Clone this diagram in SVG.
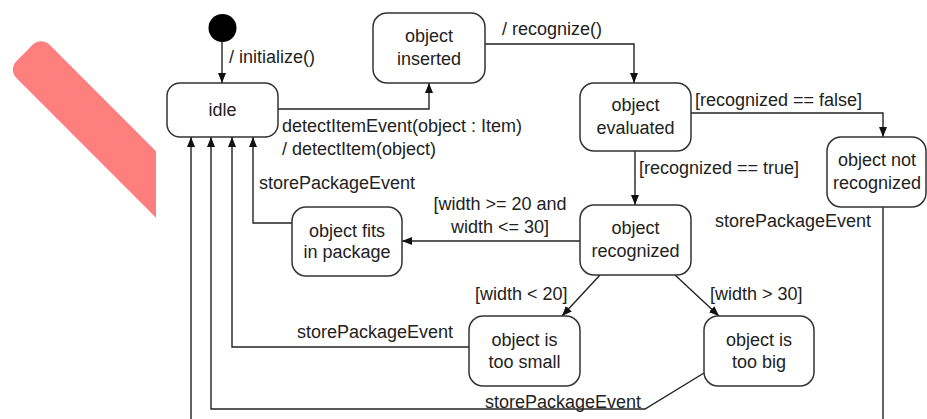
<svg xmlns="http://www.w3.org/2000/svg" width="927" height="419" viewBox="0 0 927 419">
  <style>
    .state rect { fill: #fff; stroke: #333; stroke-width: 1.5; }
    .state text, .lbl { font-family: "Liberation Sans", Arial, sans-serif; font-size: 18px; fill: #222; }
    .state text { text-anchor: middle; }
    .edge { fill: none; stroke: #222; stroke-width: 1.4; }
    .arr { marker-end: url(#head); }
  </style>
  <defs>
    <marker id="head" viewBox="0 0 10 8" refX="10" refY="4" markerWidth="10" markerHeight="8" markerUnits="userSpaceOnUse" orient="auto">
      <path d="M0,0 L10,4 L0,8 Z" fill="#111"/>
    </marker>
    <clipPath id="leftStrip">
      <rect x="0" y="0" width="156" height="419"/>
    </clipPath>
  </defs>

  <rect width="927" height="419" fill="#fff"/>

  <!-- red stroke on the left margin -->
  <g clip-path="url(#leftStrip)">
    <rect x="0" y="-23.5" width="260" height="47" rx="12" fill="#ff7f7f" transform="translate(24.5,53) rotate(45)"/>
  </g>

  <!-- transitions -->
  <g id="connectors">
    <path class="edge arr" d="M222,42 V83"/>
    <path class="edge arr" d="M278,109 H429 V83"/>
    <path class="edge arr" d="M485,44 H634 V83"/>
    <path class="edge arr" d="M691,113 H883 V137"/>
    <path class="edge arr" d="M635,151 V205"/>
    <path class="edge arr" d="M580,241 H402"/>
    <path class="edge arr" d="M600,275 L562,316"/>
    <path class="edge arr" d="M675,275 L719,316"/>
    <path class="edge arr" d="M292,223 H253 V137"/>
    <path class="edge arr" d="M469,347 H232 V137"/>
    <path class="edge arr" d="M704,373 L645,409 H211 V137"/>
    <path class="edge arr" d="M883,207 V430 H191 V137"/>

    <text class="lbl" x="229" y="63">/ initialize()</text>
    <text class="lbl" x="502" y="35">/ recognize()</text>
    <text class="lbl" x="282" y="132">detectItemEvent(object : Item)</text>
    <text class="lbl" x="282" y="155">/ detectItem(object)</text>
    <text class="lbl" x="259" y="189">storePackageEvent</text>
    <text class="lbl" x="695" y="106">[recognized == false]</text>
    <text class="lbl" x="639" y="174">[recognized == true]</text>
    <text class="lbl" x="715" y="227">storePackageEvent</text>
    <text class="lbl" x="500" y="210" text-anchor="middle">[width &gt;= 20 and</text>
    <text class="lbl" x="500" y="233" text-anchor="middle">width &lt;= 30]</text>
    <text class="lbl" x="475" y="300">[width &lt; 20]</text>
    <text class="lbl" x="710" y="300">[width &gt; 30]</text>
    <text class="lbl" x="297" y="338">storePackageEvent</text>
    <text class="lbl" x="485" y="408">storePackageEvent</text>
  </g>

  <!-- states -->
  <g id="initial">
    <circle cx="222.5" cy="28" r="14" fill="#000"/>
  </g>
  <g id="idle" class="state">
    <rect x="167" y="83" width="111" height="54" rx="13"/>
    <text x="222.5" y="116">idle</text>
  </g>
  <g id="objectInserted" class="state">
    <rect x="373" y="13" width="112" height="70" rx="14"/>
    <text x="429" y="42">object</text>
    <text x="429" y="65">inserted</text>
  </g>
  <g id="objectEvaluated" class="state">
    <rect x="580" y="83" width="111" height="68" rx="14"/>
    <text x="635.5" y="111">object</text>
    <text x="635.5" y="134">evaluated</text>
  </g>
  <g id="objectNotRecognized" class="state">
    <rect x="827" y="137" width="99" height="70" rx="14"/>
    <text x="877" y="166">object not</text>
    <text x="877" y="189">recognized</text>
  </g>
  <g id="objectRecognized" class="state">
    <rect x="580" y="205" width="111" height="70" rx="14"/>
    <text x="635.5" y="234">object</text>
    <text x="635.5" y="257">recognized</text>
  </g>
  <g id="objectFits" class="state">
    <rect x="292" y="207" width="110" height="69" rx="14"/>
    <text x="347" y="237">object fits</text>
    <text x="347" y="258">in package</text>
  </g>
  <g id="objectTooSmall" class="state">
    <rect x="469" y="316" width="111" height="70" rx="14"/>
    <text x="524.5" y="346">object is</text>
    <text x="524.5" y="368">too small</text>
  </g>
  <g id="objectTooBig" class="state">
    <rect x="704" y="316" width="110" height="70" rx="14"/>
    <text x="759" y="346">object is</text>
    <text x="759" y="368">too big</text>
  </g>
</svg>
